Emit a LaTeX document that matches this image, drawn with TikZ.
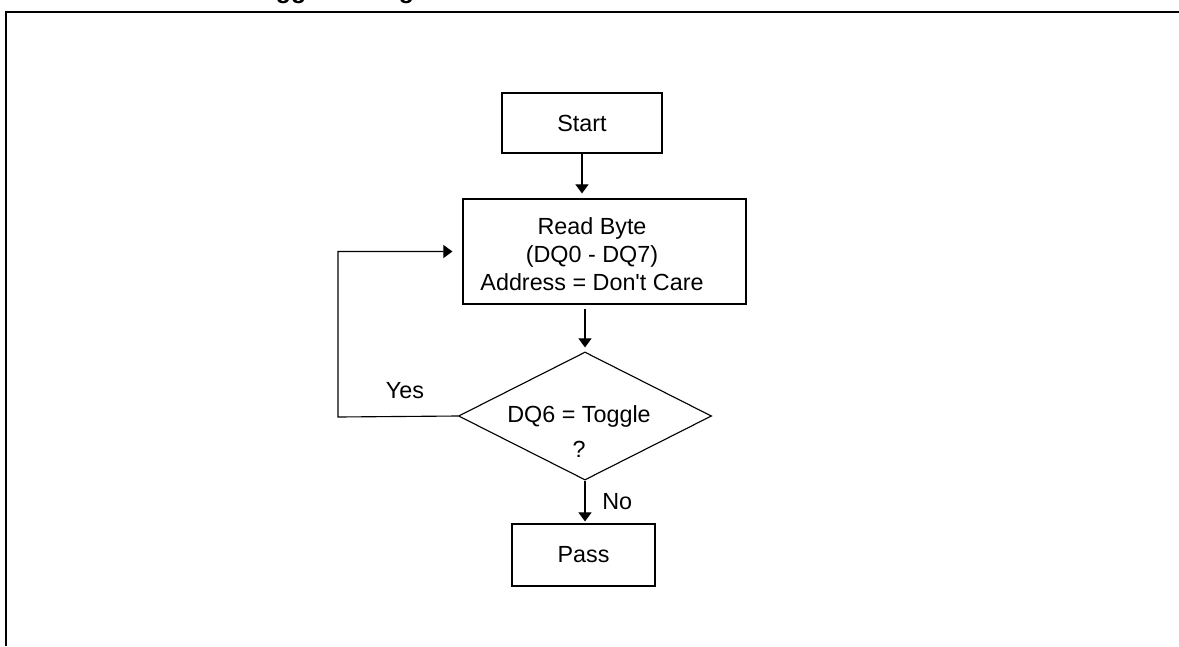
\documentclass[tikz,border=0pt]{standalone}
\usepackage{fontspec}
\setmainfont{Liberation Sans}
\usetikzlibrary{arrows.meta, shapes.geometric}

\begin{document}
\begin{tikzpicture}[x=0.025cm, y=-0.025cm, line width=0.8pt, >={Triangle[width=0.325cm, length=0.225cm]}, font=\fontsize{16.6}{19.9}\selectfont, box/.style = {draw, rectangle}, decision/.style = {draw, diamond, inner sep=0pt}, txt/.style = {anchor=north, align=center, inner sep=0pt}]
\useasboundingbox (0,0) rectangle (1179,646);
% frame and cut-off title
\draw[line width=0.0575cm] (5.7,646) -- (5.7,12) -- (1179,12);
\node[font=\bfseries\fontsize{17.7}{20}\selectfont, anchor=base west] (title) at (242,-2) {Toggle Bit Algorithm};
% steps
\node[box, minimum width=4cm, minimum height=1.5cm] (start) at (582,123) {Start};
\node[box, minimum width=7.075cm, minimum height=2.625cm] (read) at (604.5,251.5) {};
\node[txt] (readtext) at (592,217) {Read Byte\\(DQ0 - DQ7)\\Address = Don\textquotesingle t Care};
\node[decision, minimum width=6.325cm, minimum height=3.2cm] (test) at (585,416) {};
\node[txt] (testtext) at (579,405) {DQ6 = Toggle\\[5pt]?};
\node[box, minimum width=3.575cm, minimum height=1.55cm] (pass) at (583.5,555) {Pass};
\coordinate (bend) at (338,417);
% arrows
\draw[->, shorten >=0.125cm] (start.south) -- (start.south |- read.north);
\draw[->, shorten <=0.1cm, shorten >=0.1cm] (read.south -| test.north) -- (test.north);
\draw[->, shorten >=0.05cm] (test.south) -- node[right=0.3cm] (no) {No} (test.south |- pass.north);
\draw[->, shorten >=0.25cm] (test.west) -- (bend) |- (read.west);
\node (yes) at (405,391) {Yes};
\end{tikzpicture}
\end{document}
